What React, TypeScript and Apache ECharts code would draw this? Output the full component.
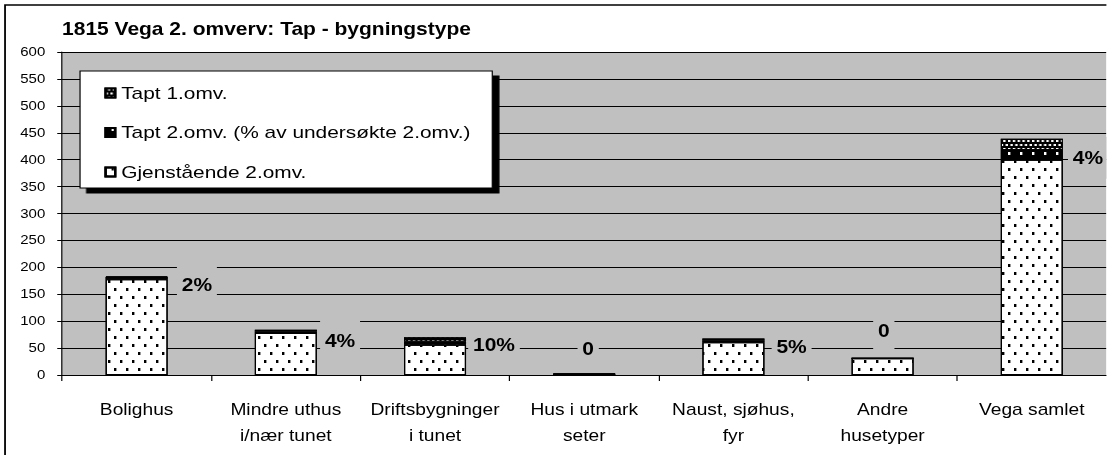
import React, { useEffect, useRef } from "react";
import * as echarts from "echarts";

// ---- data ----
const categories = [
  "Bolighus",
  "Mindre uthus\ni/nær tunet",
  "Driftsbygninger\ni tunet",
  "Hus i utmark\nseter",
  "Naust, sjøhus,\nfyr",
  "Andre\nhusetyper",
  "Vega samlet",
];
const remaining2 = [178, 78, 56, 2, 61, 31, 400];
const lost2 = [4, 3, 6, 0, 3, 0, 18];
const lost1 = [1, 3, 8, 1, 4, 0, 21];
const lossPct = ["2%", "4%", "10%", "0", "5%", "0", "4%"];
const seriesNames = [
  "Tapt 1.omv.",
  "Tapt 2.omv. (% av undersøkte 2.omv.)",
  "Gjenstående 2.omv.",
];
const yMin = 0;
const yMax = 600;
const yStep = 50;
const title = "1815 Vega 2. omverv: Tap - bygningstype";

// ---- layout (chart is drawn narrower and stretched horizontally) ----
const SX = 1.2;
const W = 922;
const H = 455;
const FONT = "'Liberation Sans', Arial, sans-serif";

// label placement per category (relative to the top of each stack)
const labelPlace: any[] = [
  { position: ["100%", 0], align: "left", offset: [7.5, 9] },
  { position: ["100%", 0], align: "left", offset: [2.7, 11] },
  { position: ["100%", 0], align: "left", offset: [1.8, 8] },
  { position: ["50%", 0], align: "center", offset: [3.3, -24] },
  { position: ["100%", 0], align: "left", offset: [6, 9] },
  { position: ["50%", 0], align: "center", offset: [1, -27] },
  { position: ["100%", 0], align: "left", offset: [4.3, 19] },
];

const dotsDecal = (color: string) => ({
  symbol: "rect",
  symbolSize: 1,
  color,
  dashArrayX: [
    [2, 8],
    [0, 5, 2, 3],
  ],
  dashArrayY: [2.5, 4.5],
  rotation: 0,
});

const checkDecal = {
  symbol: "rect",
  symbolSize: 1,
  color: "#fff",
  dashArrayX: [
    [1.5, 1.5],
    [0, 1.5, 1.5, 0],
  ],
  dashArrayY: [1.5, 1.5],
  rotation: 0,
};

export default function App() {
  const ref = useRef<HTMLDivElement>(null);

  useEffect(() => {
    if (!ref.current) return;
    const chart = echarts.init(ref.current, null, { renderer: "svg" });

    const option: any = {
      animation: false,
      backgroundColor: "#fff",
      textStyle: { fontFamily: FONT, color: "#000" },
      title: {
        text: title,
        left: 51.7,
        top: 20,
        padding: 0,
        textStyle: {
          fontFamily: FONT,
          fontWeight: "bold",
          fontSize: 17.5,
          color: "#000",
        },
      },
      graphic: [
        {
          type: "rect",
          shape: { x: 4.2, y: 5, width: 1200, height: 1200 },
          style: { fill: "none", stroke: "#000", lineWidth: 1.5 },
          silent: true,
          z: 10,
        },
      ],
      legend: {
        data: seriesNames,
        orient: "vertical",
        left: 66.7,
        top: 71,
        padding: [12, 18, 6, 20.3],
        itemGap: 19.5,
        itemWidth: 8,
        itemHeight: 9,
        icon: "rect",
        backgroundColor: "#fff",
        borderColor: "#000",
        borderWidth: 1,
        borderRadius: 0,
        shadowColor: "#000",
        shadowBlur: 0,
        shadowOffsetX: 5.5,
        shadowOffsetY: 5,
        selectedMode: false,
        textStyle: {
          fontFamily: FONT,
          fontSize: 17.4,
          lineHeight: 20,
          color: "#000",
        },
        z: 6,
      },
      grid: {
        left: 51.7,
        right: 0,
        top: 52,
        bottom: 80,
        show: true,
        backgroundColor: "#c0c0c0",
        borderWidth: 0,
      },
      xAxis: {
        type: "category",
        data: categories,
        boundaryGap: true,
        axisLine: { show: true, lineStyle: { color: "#000", width: 1 } },
        axisTick: {
          show: true,
          alignWithLabel: false,
          length: 6,
          lineStyle: { color: "#000" },
        },
        axisLabel: {
          interval: 0,
          margin: 22,
          fontFamily: FONT,
          fontSize: 16,
          lineHeight: 26,
          color: "#000",
        },
      },
      yAxis: {
        type: "value",
        min: yMin,
        max: yMax,
        interval: yStep,
        axisLine: { show: true, lineStyle: { color: "#000", width: 1 } },
        axisTick: { show: true, length: 4, lineStyle: { color: "#000" } },
        axisLabel: {
          margin: 14,
          fontFamily: FONT,
          fontSize: 12.5,
          color: "#000",
        },
        splitLine: { show: true, lineStyle: { color: "#000", width: 1 } },
      },
      series: [
        {
          name: seriesNames[2],
          type: "bar",
          stack: "total",
          barWidth: 51.7,
          data: remaining2,
          itemStyle: {
            color: "#fff",
            borderColor: "#000",
            borderWidth: 1,
            decal: dotsDecal("#000"),
          },
        },
        {
          name: seriesNames[1],
          type: "bar",
          stack: "total",
          barWidth: 51.7,
          data: lost2,
          itemStyle: {
            color: "#000",
            borderColor: "#000",
            borderWidth: 1,
            decal: dotsDecal("#fff"),
          },
        },
        {
          name: seriesNames[0],
          type: "bar",
          stack: "total",
          barWidth: 51.7,
          data: lost1.map((v, i) => ({ value: v, label: labelPlace[i] })),
          itemStyle: {
            color: "#000",
            borderColor: "#000",
            borderWidth: 1,
            decal: checkDecal,
          },
          label: {
            show: true,
            formatter: (p: any) => lossPct[p.dataIndex],
            fontFamily: FONT,
            fontWeight: "bold",
            fontSize: 17.5,
            lineHeight: 18,
            color: "#000",
            backgroundColor: "#c0c0c0",
            padding: [12, 4],
            verticalAlign: "middle",
          },
        },
      ],
    };

    chart.setOption(option);
    return () => chart.dispose();
  }, []);

  return (
    <div
      style={{
        position: "fixed",
        left: 0,
        top: 0,
        width: 1107,
        height: H,
        overflow: "hidden",
        background: "#fff",
      }}
    >
      <div
        ref={ref}
        style={{
          width: W,
          height: H,
          transform: `scaleX(${SX})`,
          transformOrigin: "0 0",
        }}
      />
    </div>
  );
}
